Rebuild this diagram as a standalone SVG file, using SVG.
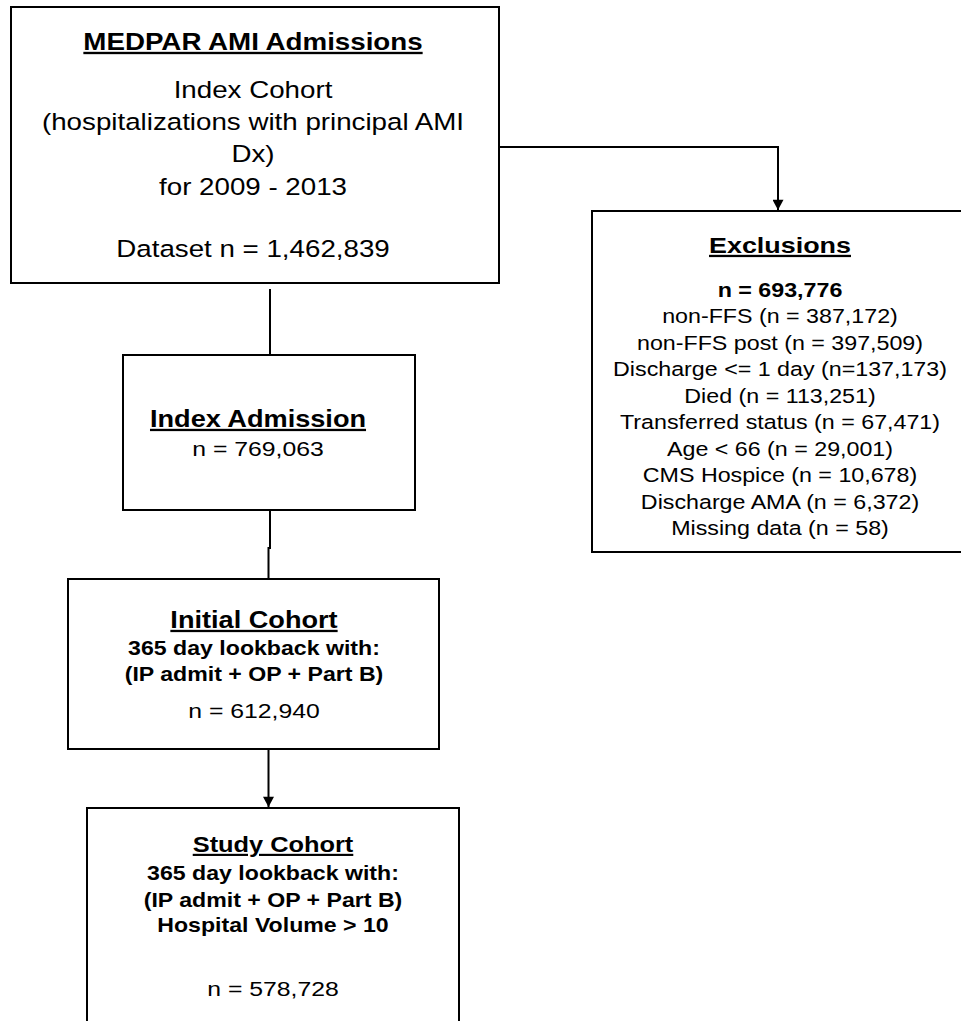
<svg xmlns="http://www.w3.org/2000/svg" width="961" height="1021" viewBox="0 0 961 1021">
<style>
.box{fill:#fff;stroke:#000;stroke-width:2}
.t{font-family:"Liberation Sans",Arial,sans-serif;fill:#000;text-anchor:middle}
.b{font-weight:bold}
.u{text-decoration:underline}
.c{fill:none;stroke:#000;stroke-width:2}
</style>
<defs>
<marker id="ah" markerWidth="13" markerHeight="11" refX="12" refY="6.5" orient="auto" markerUnits="userSpaceOnUse" viewBox="0 0 12 13">
<path d="M0,0 L12,6.5 L0,13 Z" fill="#000"/>
</marker>
</defs>
<rect width="961" height="1021" fill="#fff"/>
<g id="connectors">
<path class="c" d="M499,147 H778 V210" marker-end="url(#ah)"/>
<path class="c" d="M270,289 V355"/>
<path class="c" d="M270,510 V548 H268.5 V579"/>
<path class="c" d="M268.5,749 V807" marker-end="url(#ah)"/>
</g>
<g id="medpar">
<rect class="box" x="11" y="7" width="488" height="276"/>
<g transform="translate(253 0) scale(1.18 1)">
<text class="t b u" x="0" y="50" font-size="23.5">MEDPAR AMI Admissions</text>
<text class="t" x="0" y="98.5" font-size="23.5">Index Cohort</text>
<text class="t" x="0" y="130" font-size="23.5">(hospitalizations with principal AMI</text>
<text class="t" x="0" y="162.5" font-size="23.5">Dx)</text>
<text class="t" x="0" y="195" font-size="23.5">for 2009 - 2013</text>
<text class="t" x="0" y="257" font-size="23.5">Dataset n = 1,462,839</text>
</g>
</g>
<g id="exclusions">
<rect class="box" x="592" y="211" width="376" height="341"/>
<g transform="translate(780 0) scale(1.18 1)">
<text class="t b u" x="0" y="253" font-size="22.8">Exclusions</text>
<text class="t b" x="0" y="297" font-size="19.7">n = 693,776</text>
<text class="t" x="0" y="323.5" font-size="19.7">non-FFS (n = 387,172)</text>
<text class="t" x="0" y="350" font-size="19.7">non-FFS post (n = 397,509)</text>
<text class="t" x="0" y="376.5" font-size="19.7">Discharge &lt;= 1 day (n=137,173)</text>
<text class="t" x="0" y="403" font-size="19.7">Died (n = 113,251)</text>
<text class="t" x="0" y="429.5" font-size="19.7">Transferred status (n = 67,471)</text>
<text class="t" x="0" y="456" font-size="19.7">Age &lt; 66 (n = 29,001)</text>
<text class="t" x="0" y="482.5" font-size="19.7">CMS Hospice (n = 10,678)</text>
<text class="t" x="0" y="509" font-size="19.7">Discharge AMA (n = 6,372)</text>
<text class="t" x="0" y="535.5" font-size="19.7">Missing data (n = 58)</text>
</g>
</g>
<g id="index-admission">
<rect class="box" x="123" y="355" width="292" height="155"/>
<g transform="translate(258 0) scale(1.18 1)">
<text class="t b u" x="0" y="427" font-size="23">Index Admission</text>
<text class="t" x="0" y="456.5" font-size="21">n = 769,063</text>
</g>
</g>
<g id="initial-cohort">
<rect class="box" x="68" y="579" width="371" height="170"/>
<g transform="translate(254 0) scale(1.18 1)">
<text class="t b u" x="0" y="628" font-size="23">Initial Cohort</text>
<text class="t b" x="0" y="655" font-size="19.6">365 day lookback with:</text>
<text class="t b" x="0" y="681.5" font-size="19.6">(IP admit + OP + Part B)</text>
<text class="t" x="0" y="718" font-size="21">n = 612,940</text>
</g>
</g>
<g id="study-cohort">
<rect class="box" x="87" y="808" width="372" height="230"/>
<g transform="translate(273 0) scale(1.18 1)">
<text class="t b u" x="0" y="852" font-size="21.5">Study Cohort</text>
<text class="t b" x="0" y="880" font-size="19.6">365 day lookback with:</text>
<text class="t b" x="0" y="907" font-size="19.6">(IP admit + OP + Part B)</text>
<text class="t b" x="0" y="932" font-size="19.6">Hospital Volume &gt; 10</text>
<text class="t" x="0" y="996" font-size="21">n = 578,728</text>
</g>
</g>
</svg>
